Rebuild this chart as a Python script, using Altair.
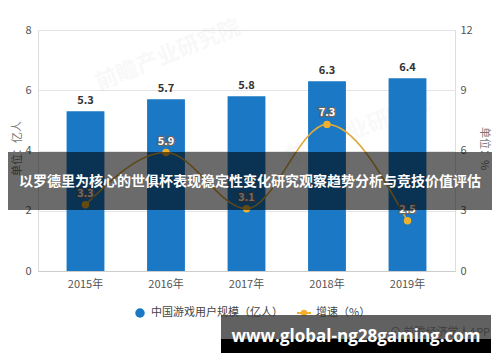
import altair as alt
import pandas as pd

years = ["2015年", "2016年", "2017年", "2018年", "2019年"]
users = [5.3, 5.7, 5.8, 6.3, 6.4]
growth = [3.3, 5.9, 3.1, 7.3, 2.5]

series_names = ["中国游戏用户规模（亿人）", "增速（%）"]
left_title = "单位：亿人"
right_title = "单位：%"
banner_text = "以罗德里为核心的世俱杯表现稳定性变化研究观察趋势分析与竞技价值评估"
site_text = "www.global-ng28gaming.com"
source_text = "⊙ 前瞻经济学人APP"
mark_text = "前瞻产业研究院"

FONT = "Noto Sans CJK SC"
BLUE = "#1a78c4"
GOLD = "#f0b02c"
LINEGOLD = "#dcaa3c"

df = pd.DataFrame({"year": years, "users": users, "growth": growth})
one = pd.DataFrame({"k": [0]})

xenc = alt.X(
    "year:N", sort=years,
    scale=alt.Scale(paddingInner=0.53, paddingOuter=0.355),
    axis=alt.Axis(title=None, labelAngle=0, labelColor="#555", labelFontSize=11,
                  labelPadding=7, domainColor="#cccccc", ticks=False, labelFont=FONT),
)
base = alt.Chart(df).encode(x=xenc)

yl = alt.Y(
    "users:Q", scale=alt.Scale(domain=[0, 8]),
    axis=alt.Axis(values=[0, 2, 4, 6, 8], title=left_title, titleX=-21, titleY=118,
                  titleAngle=-90, titleAlign="center", titleBaseline="middle",
                  titleFontWeight="normal", titleColor="#777", titleFontSize=11, titleFont=FONT,
                  grid=True, gridColor="#e4e4e4", domain=False, ticks=False,
                  labelPadding=7, labelColor="#555", labelFontSize=11),
)
yr = alt.Y(
    "growth:Q", scale=alt.Scale(domain=[0, 12]),
    axis=alt.Axis(orient="right", values=[0, 3, 6, 9, 12], title=right_title, titleX=28, titleY=118,
                  titleAngle=90, titleAlign="center", titleBaseline="middle",
                  titleFontWeight="normal", titleColor="#777", titleFontSize=11, titleFont=FONT,
                  grid=False, domain=False, ticks=False,
                  labelPadding=5, labelColor="#555", labelFontSize=11),
)

bars = base.mark_bar(color=BLUE).encode(y=yl)
bar_labels = base.mark_text(dy=-10, fontWeight="bold", fontSize=11, color="#333", font=FONT).encode(
    y=alt.Y("users:Q"), text=alt.Text("users:Q", format=".1f"))
left = alt.layer(bars, bar_labels)

line = base.mark_line(color=LINEGOLD, strokeWidth=1.6, interpolate="monotone").encode(y=yr)
pts = base.mark_point(filled=True, color=GOLD, size=55, opacity=1).encode(y=alt.Y("growth:Q"))
lab_bg = base.mark_text(dy=-11, fontWeight="bold", fontSize=11, color="#666", stroke="#666",
                        strokeWidth=2.5, font=FONT).encode(
    y=alt.Y("growth:Q"), text=alt.Text("growth:Q", format=".1f"))
lab_fg = base.mark_text(dy=-11, fontWeight="bold", fontSize=11, color="white", font=FONT).encode(
    y=alt.Y("growth:Q"), text=alt.Text("growth:Q", format=".1f"))
right = alt.layer(line, pts, lab_bg, lab_fg)

deco = alt.Chart(one)
wm = deco.mark_text(text=mark_text, angle=338, fontSize=22, fontWeight="bold", color="#000",
                    opacity=0.025, font=FONT).encode(x=alt.value(130), y=alt.value(25))
wm2 = deco.mark_text(text=mark_text, angle=338, fontSize=22, fontWeight="bold", color="#000",
                     opacity=0.02, font=FONT).encode(x=alt.value(320), y=alt.value(100))

# legend
leg_dot = deco.mark_point(filled=True, color=BLUE, size=90, opacity=1).encode(
    x=alt.value(102), y=alt.value(283))
leg_t1 = deco.mark_text(text=series_names[0], align="left", baseline="middle", fontSize=11,
                        color="#444", font=FONT).encode(x=alt.value(113), y=alt.value(283))
leg_line = deco.mark_rule(color=GOLD, strokeWidth=2).encode(
    x=alt.value(259), x2=alt.value(273), y=alt.value(283))
leg_pt = deco.mark_point(filled=True, color=GOLD, size=40, opacity=1).encode(
    x=alt.value(266), y=alt.value(283))
leg_t2 = deco.mark_text(text=series_names[1], align="left", baseline="middle", fontSize=11,
                        color="#444", font=FONT).encode(x=alt.value(278), y=alt.value(283))

src = deco.mark_text(text=source_text, align="left", baseline="middle", fontSize=11,
                     color="#555", font=FONT).encode(x=alt.value(352), y=alt.value(303))

banner = deco.mark_rect(color="black", opacity=0.58).encode(
    x=alt.value(-40), x2=alt.value(470), y=alt.value(122), y2=alt.value(180))
banner_t = deco.mark_text(text=banner_text, align="center", baseline="middle", fontSize=14,
                          fontWeight="bold", color="white", font=FONT).encode(
    x=alt.value(212), y=alt.value(152))

box = deco.mark_rect(color="#3a3a3a", opacity=0.8).encode(
    x=alt.value(183), x2=alt.value(453), y=alt.value(285), y2=alt.value(323))
box2 = deco.mark_rect(color="black", opacity=1).encode(
    x=alt.value(183), x2=alt.value(453), y=alt.value(309), y2=alt.value(323))
site_t = deco.mark_text(text=site_text, align="center", baseline="middle", fontSize=17,
                        fontWeight="bold", color="white", font="Open Sans").encode(
    x=alt.value(318), y=alt.value(307))

chart = alt.layer(
    wm, wm2, left, right, leg_dot, leg_t1, leg_line, leg_pt, leg_t2, src,
    banner, banner_t, box, box2, site_t
).resolve_scale(y="independent").properties(
    width=417, height=241,
    autosize=alt.AutoSizeParams(type="none"),
    padding={"left": 30, "top": 22, "right": 37, "bottom": 83},
).configure_view(stroke=None).configure(font=FONT)

chart.save("out.html", embed_options={"renderer": "svg", "actions": False})
